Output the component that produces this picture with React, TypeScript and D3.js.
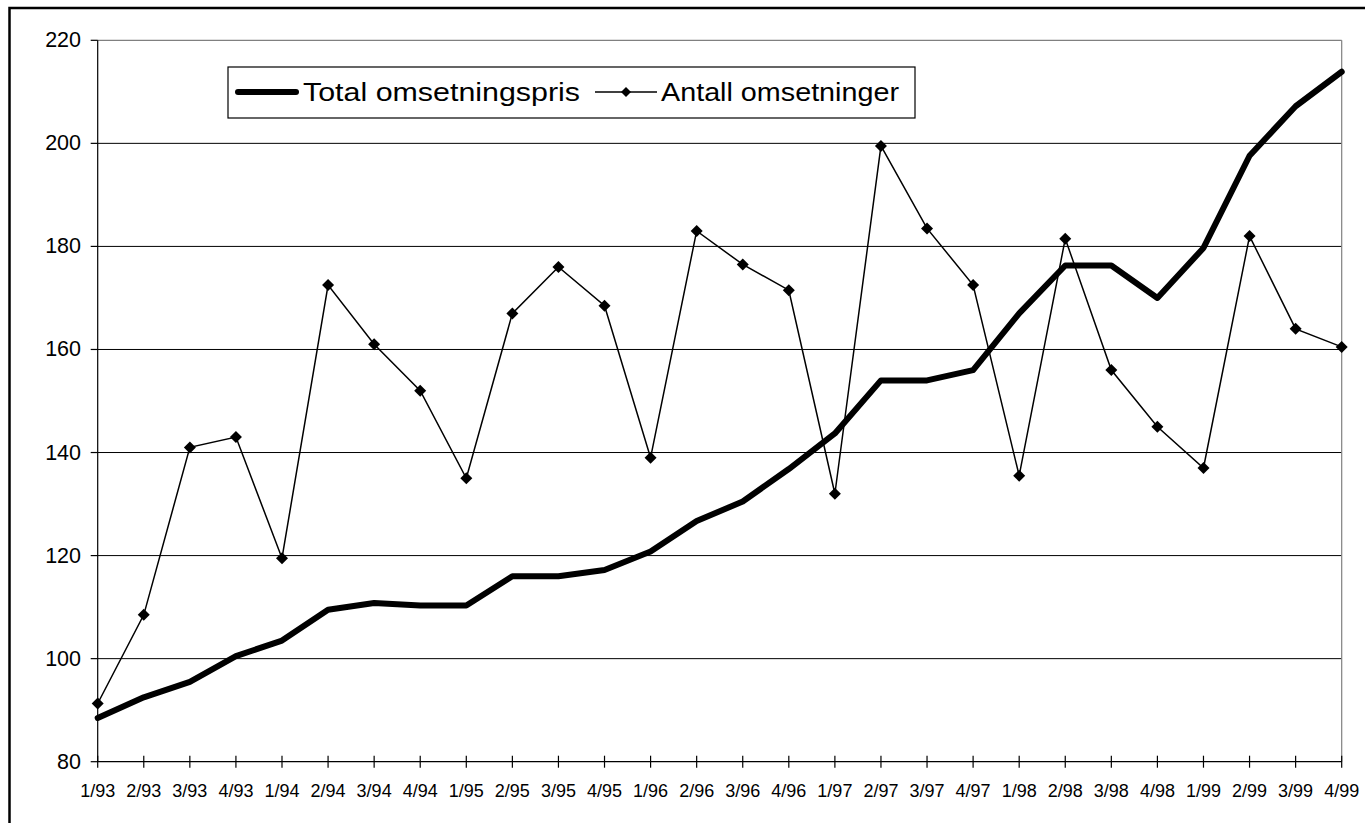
import * as d3 from 'd3';

const quarters = [
  '1/93', '2/93', '3/93', '4/93', '1/94', '2/94', '3/94', '4/94',
  '1/95', '2/95', '3/95', '4/95', '1/96', '2/96', '3/96', '4/96',
  '1/97', '2/97', '3/97', '4/97', '1/98', '2/98', '3/98', '4/98',
  '1/99', '2/99', '3/99', '4/99',
];

const totalPris = [
  88.5, 92.5, 95.5, 100.5, 103.5, 109.5, 110.8, 110.3,
  110.3, 116, 116, 117.2, 120.8, 126.7, 130.5, 136.8,
  143.7, 154, 154, 156, 167, 176.3, 176.3, 170,
  179.7, 197.6, 207.2, 213.9,
];

const antall = [
  91.3, 108.5, 141, 143, 119.5, 172.5, 161, 152,
  135, 167, 176, 168.5, 139, 183, 176.5, 171.5,
  132, 199.5, 183.5, 172.5, 135.5, 181.5, 156, 145,
  137, 182, 164, 160.5,
];

const yTicks = [80, 100, 120, 140, 160, 180, 200, 220];

const W = 1365;
const H = 823;
const left = 97.7;
const right = 1341.7;
const top = 40.3;
const bottom = 761.7;
const font = 'Arial, "Liberation Sans", sans-serif';

const diamond = (r: number) => `M0,${-r}L${r},0L0,${r}L${-r},0Z`;

export default function App() {
  const x = d3.scalePoint<string>().domain(quarters).range([left, right]);
  const y = d3.scaleLinear().domain([80, 220]).range([bottom, top]);

  const line = d3
    .line<number>()
    .x((_, i) => x(quarters[i]) ?? 0)
    .y((d) => y(d));

  return (
    <svg width={W} height={H} style={{ position: 'absolute', left: 0, top: 0, background: '#fff' }}>
      {/* outer frame, cut off at right and bottom */}
      <rect x={9.5} y={8} width={W + 20} height={H + 20} fill="#fff" stroke="#000" strokeWidth={2.5} />

      {/* grid */}
      {yTicks.slice(1, -1).map((t) => (
        <line key={t} x1={left} x2={right} y1={y(t)} y2={y(t)} stroke="#000" strokeWidth={1} />
      ))}
      <line x1={left} x2={right} y1={y(220)} y2={y(220)} stroke="#808080" strokeWidth={1.2} />
      <line x1={right} x2={right} y1={top} y2={bottom} stroke="#808080" strokeWidth={1.2} />

      {/* y axis */}
      <line x1={left} x2={left} y1={top} y2={bottom} stroke="#000" strokeWidth={1.2} />
      {yTicks.map((t) => (
        <g key={t}>
          <line x1={left - 7} x2={left} y1={y(t)} y2={y(t)} stroke="#000" strokeWidth={1.2} />
          <text
            x={81}
            y={y(t)}
            textAnchor="end"
            dominantBaseline="central"
            fontFamily={font}
            fontSize={21.5}
            fill="#000"
          >
            {t}
          </text>
        </g>
      ))}

      {/* x axis */}
      <line x1={left} x2={right} y1={bottom} y2={bottom} stroke="#000" strokeWidth={1.2} />
      {quarters.map((q) => (
        <g key={q}>
          <line x1={x(q)} x2={x(q)} y1={bottom - 6} y2={bottom + 6} stroke="#000" strokeWidth={1.2} />
          <text
            x={x(q)}
            y={791}
            textAnchor="middle"
            dominantBaseline="central"
            fontFamily={font}
            fontSize={18}
            fill="#000"
          >
            {q}
          </text>
        </g>
      ))}

      {/* series */}
      <path d={line(antall) ?? ''} fill="none" stroke="#000" strokeWidth={1.5} />
      {antall.map((v, i) => (
        <path key={i} d={diamond(6)} transform={`translate(${x(quarters[i])},${y(v)})`} fill="#000" />
      ))}
      <path
        d={line(totalPris) ?? ''}
        fill="none"
        stroke="#000"
        strokeWidth={6}
        strokeLinejoin="round"
        strokeLinecap="round"
      />

      {/* legend */}
      <rect x={228} y={67} width={687} height={51} fill="#fff" stroke="#000" strokeWidth={1.2} />
      <line x1={238} x2={296} y1={92} y2={92} stroke="#000" strokeWidth={6} strokeLinecap="round" />
      <text
        x={303}
        y={92}
        dominantBaseline="central"
        fontFamily={font}
        fontSize={26}
        textLength={277}
        lengthAdjust="spacingAndGlyphs"
        fill="#000"
      >
        Total omsetningspris
      </text>
      <line x1={595} x2={657} y1={92} y2={92} stroke="#000" strokeWidth={1.5} />
      <path d={diamond(5)} transform="translate(626,92)" fill="#000" />
      <text
        x={661}
        y={92}
        dominantBaseline="central"
        fontFamily={font}
        fontSize={26}
        textLength={238}
        lengthAdjust="spacingAndGlyphs"
        fill="#000"
      >
        Antall omsetninger
      </text>
    </svg>
  );
}
